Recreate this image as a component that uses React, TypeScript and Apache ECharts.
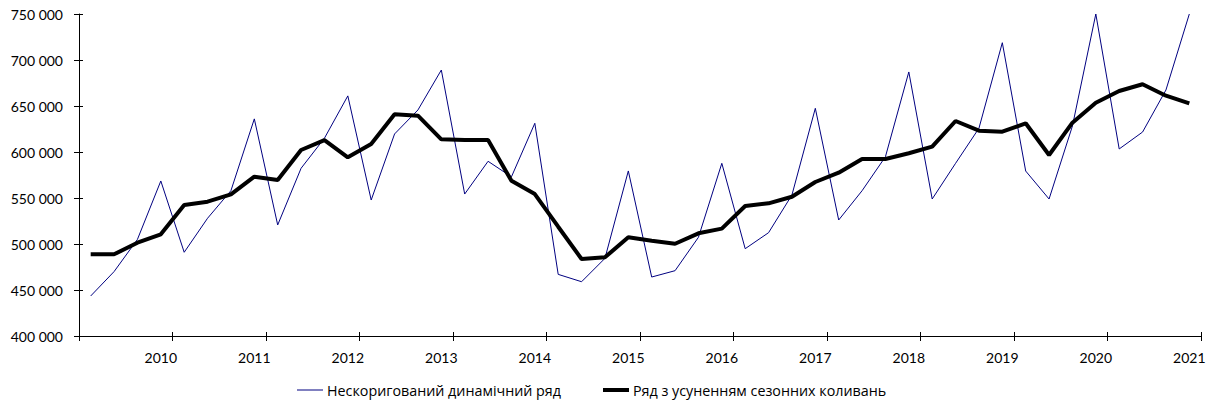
import React, { useEffect, useRef } from "react";
import * as echarts from "echarts";

const YEARS = [2009, 2010, 2011, 2012, 2013, 2014, 2015, 2016, 2017, 2018, 2019, 2020, 2021];
const QUARTERS = ["I", "II", "III", "IV"];

const RAW = [
  443500, 470000, 505000, 568500, 491000, 528000, 558000, 636000,
  520700, 582300, 615000, 661000, 547800, 619600, 645700, 689100,
  554300, 589900, 573000, 631200, 467000, 459000, 484400, 579400,
  464100, 471000, 507300, 587700, 494900, 512300, 553300, 647500,
  526100, 557900, 594900, 687000, 548900, 587700, 625800, 718800,
  579300, 548900, 628300, 750000, 603300, 621700, 667400, 750000,
];

const ADJUSTED = [
  488800, 488800, 501400, 510500, 542400, 546000, 554000, 573200,
  569600, 602200, 613000, 594200, 608700, 641000, 639500, 613800,
  613000, 613000, 568800, 554300, 518800, 483700, 485500, 507300,
  503600, 500300, 511600, 516700, 541300, 544200, 551400, 567400,
  577500, 592400, 592400, 598600, 605800, 633700, 623200, 622100,
  631200, 596700, 631900, 653600, 666300, 673600, 661200, 652900,
];

const SERIES_NAMES = ["Нескоригований динамічний ряд", "Ряд з усуненням сезонних коливань"];

// categories: 2009 II ... 2021 I
const CATEGORIES: string[] = [];
YEARS.forEach((y) => QUARTERS.forEach((q) => CATEGORIES.push(`${y} ${q}`)));
const CATS = CATEGORIES.slice(1, 1 + RAW.length);

const Y_MIN = 400000;
const Y_MAX = 750000;
const Y_STEP = 50000;

const FONT = "Lato, 'Liberation Sans', sans-serif";
const LEGEND_FONT = "'Open Sans', Lato, sans-serif";

const fmt = (v: number) => String(v).replace(/\B(?=(\d{3})+(?!\d))/g, " ");

export default function App() {
  const ref = useRef<HTMLDivElement>(null);
  useEffect(() => {
    if (!ref.current) return;
    const chart = echarts.init(ref.current, undefined, { renderer: "svg" });
    const tickInterval = (i: number) => i % 4 === 0;
    const legendText = { fontFamily: LEGEND_FONT, fontSize: 14.3, color: "#000" };
    chart.setOption({
      animation: false,
      backgroundColor: "#fff",
      grid: { left: 79, right: 10, top: 14, bottom: 69, containLabel: false },
      legend: [
        {
          data: [SERIES_NAMES[0]],
          left: 297,
          top: 380,
          icon: "rect",
          itemWidth: 26,
          itemHeight: 1,
          padding: 0,
          itemStyle: { color: "#000080" },
          textStyle: { ...legendText, padding: [0, 0, 0, -1], lineHeight: 20 },
        },
        {
          data: [SERIES_NAMES[1]],
          left: 603,
          top: 380,
          icon: "rect",
          itemWidth: 26,
          itemHeight: 4,
          padding: 0,
          itemStyle: { color: "#000" },
          textStyle: { ...legendText, padding: [0, 0, 0, -1], lineHeight: 20 },
        },
      ],
      xAxis: [
        {
          type: "category",
          data: CATS,
          boundaryGap: true,
          axisLine: { show: true, lineStyle: { color: "#000", width: 1 } },
          axisTick: { show: true, interval: tickInterval, length: 5, lineStyle: { color: "#000" } },
          axisLabel: {
            interval: 0,
            margin: 14,
            fontFamily: FONT,
            fontSize: 14,
            color: "#000",
            formatter: (v: string) => (v.endsWith(" I") ? v.split(" ")[0] : ""),
          },
          splitLine: { show: false },
        },
        {
          type: "category",
          data: CATS,
          boundaryGap: true,
          position: "bottom",
          axisLine: { show: false },
          axisTick: { show: true, inside: true, interval: tickInterval, length: 4, lineStyle: { color: "#000" } },
          axisLabel: { show: false },
          splitLine: { show: false },
        },
      ],
      yAxis: [
        {
          type: "value",
          min: Y_MIN,
          max: Y_MAX,
          interval: Y_STEP,
          axisLine: { show: true, lineStyle: { color: "#000", width: 1 } },
          axisTick: { show: true, length: 5, lineStyle: { color: "#000" } },
          axisLabel: { margin: 16, fontFamily: FONT, fontSize: 14, color: "#000", formatter: (v: number) => fmt(v) },
          splitLine: { show: false },
        },
        {
          type: "value",
          min: Y_MIN,
          max: Y_MAX,
          interval: Y_STEP,
          position: "left",
          axisLine: { show: false },
          axisTick: { show: true, inside: true, length: 4, lineStyle: { color: "#000" } },
          axisLabel: { show: false },
          splitLine: { show: false },
        },
      ],
      series: [
        {
          name: SERIES_NAMES[0],
          type: "line",
          data: RAW,
          symbol: "none",
          lineStyle: { color: "#000080", width: 1 },
          itemStyle: { color: "#000080" },
          z: 2,
        },
        {
          name: SERIES_NAMES[1],
          type: "line",
          data: ADJUSTED,
          symbol: "none",
          lineStyle: { color: "#000", width: 4 },
          itemStyle: { color: "#000" },
          z: 3,
        },
      ],
    });
    return () => chart.dispose();
  }, []);
  return (
    <div
      ref={ref}
      style={{ position: "fixed", left: 0, top: 0, width: 1211, height: 405, background: "#fff" }}
    />
  );
}
